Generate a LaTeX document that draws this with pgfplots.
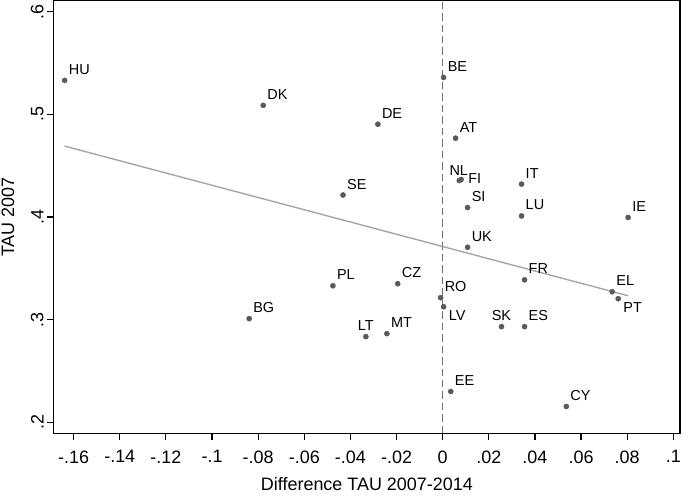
\documentclass[border=0pt]{standalone}
\usepackage{fontspec}
\setmainfont{Liberation Sans}
\usepackage{pgfplots}
\pgfplotsset{compat=1.18}
\definecolor{dotc}{HTML}{5A5A5A}
\definecolor{fitc}{HTML}{A6A6A6}
\definecolor{zeroc}{HTML}{6E6E6E}

\pgfplotsset{
  cty/.style={only marks, mark=*, mark size=2.6pt, dotc,
    point meta=explicit symbolic, nodes near coords,
    every node near coord/.append style={black, inner sep=0pt, font=\fontsize{14.5}{14.5}\selectfont}},
}

\begin{document}
\begin{tikzpicture}
\begin{axis}[
  width=628pt, height=434pt, scale only axis,
  xmin=-0.1686, xmax=0.1029, ymin=0.1893, ymax=0.6107,
  xtick={-0.16,-0.14,-0.12,-0.1,-0.08,-0.06,-0.04,-0.02,0,0.02,0.04,0.06,0.08,0.1},
  xticklabels={-.16,-.14,-.12,-.1,-.08,-.06,-.04,-.02,0,.02,.04,.06,.08,.1},
  ytick={0.2,0.3,0.4,0.5,0.6},
  yticklabels={.2,.3,.4,.5,.6},
  tick align=outside, tick pos=left,
  major tick length=7pt,
  axis line style={line width=1.2pt},
  tick style={black, line width=1.2pt},
  ticklabel style={font=\fontsize{18}{18}\selectfont, inner sep=0pt},
  xticklabel style={anchor=north, yshift=-10pt},
  yticklabel style={rotate=90, anchor=south, yshift=3pt},
  xlabel={Difference TAU 2007-2014},
  ylabel={TAU 2007},
  label style={font=\fontsize{18}{18}\selectfont},
  xlabel style={at={(axis description cs:0.5,0)}, anchor=base, yshift=-57pt, inner sep=0pt, outer sep=0pt, text depth=5pt},
  ylabel style={at={(axis description cs:0,0.5)}, anchor=south, yshift=38pt, inner sep=1.5pt},
  after end axis/.code={\path (rel axis cs:1,1) ++(5pt,0pt);},
]
\addplot[zeroc, line width=1.4pt, dash pattern=on 7.5pt off 4pt] coordinates {(0,0.1893) (0,0.6107)};
\addplot[fitc, line width=1.4pt] coordinates {(-0.1639,0.4690) (0.0804,0.3233)};
% labels up and to the right
\addplot[cty, every node near coord/.append style={anchor=base west, xshift=4pt, yshift=6pt}]
  table[meta=lab] {
x y lab
-0.1639 0.5330 HU
-0.0778 0.5087 DK
-0.0281 0.4903 DE
0.0004 0.5359 BE
0.0056 0.4767 AT
0.0342 0.4320 IT
0.0108 0.4092 SI
0.0342 0.4010 LU
0.0804 0.3995 IE
0.0108 0.3705 UK
-0.0432 0.4214 SE
0.0355 0.3388 FR
0.0735 0.3272 EL
-0.0009 0.3214 RO
0.0355 0.2932 ES
0.0035 0.2301 EE
0.0536 0.2155 CY
-0.0476 0.3330 PL
-0.0195 0.3350 CZ
-0.0839 0.3010 BG
-0.0242 0.2864 MT
};
% labels above, centred
\addplot[cty, every node near coord/.append style={anchor=base, yshift=6.5pt}]
  table[meta=lab] {
x y lab
0.0255 0.2932 SK
-0.0333 0.2835 LT
};
% labels below right
\addplot[cty, every node near coord/.append style={anchor=base west, xshift=5pt, yshift=-13.5pt}]
  table[meta=lab] {
x y lab
0.0761 0.3204 PT
0.0004 0.3126 LV
};
\addplot[cty, every node near coord/.append style={anchor=base west, xshift=-10pt, yshift=5pt}]
  table[meta=lab] {
x y lab
0.0072 0.4355 NL
};
\addplot[cty, every node near coord/.append style={anchor=base west, xshift=7pt, yshift=-4pt}]
  table[meta=lab] {
x y lab
0.0080 0.4365 FI
};
\end{axis}
\end{tikzpicture}
\end{document}
